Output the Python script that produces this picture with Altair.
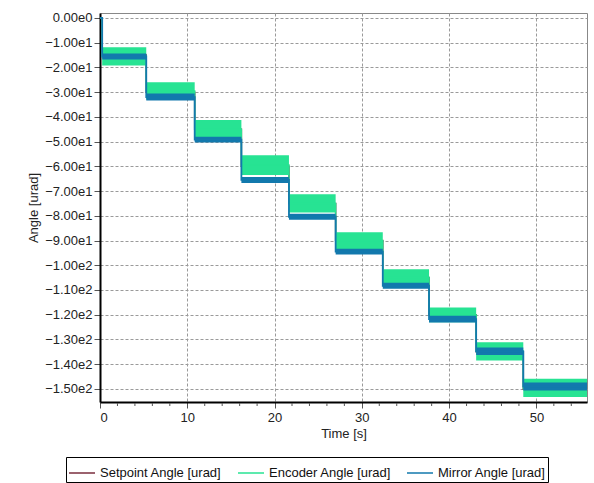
import altair as alt
import pandas as pd

# ---- data ----
series_names = ["Setpoint Angle [urad]", "Encoder Angle [urad]", "Mirror Angle [urad]"]
series_colors = ["#7a2e3e", "#27e393", "#1279ad"]

# start time of each level (s); the first entry is the initial value at t=0
step_times = [0.0, 0.25, 5.3, 10.85, 16.2, 21.65, 27.0, 32.4, 37.7, 43.1, 48.5]
end_time = 55.8
setpoint_levels = [0, -15, -30, -45, -60, -75, -90, -105, -120, -135, -150]
encoder_high = [0, -11.8, -26.0, -41.3, -55.5, -71.3, -86.7, -101.6, -117.1, -131.1, -145.9]
encoder_low = [0, -19.2, -33.0, -48.7, -63.5, -78.7, -93.4, -108.3, -123.1, -138.5, -153.3]
mirror_levels = [0, -15.6, -32.0, -49.2, -65.5, -80.4, -94.5, -108.3, -121.8, -134.8, -149.0]
mirror_spread = [0, 1.2, 1.4, 1.2, 1.2, 1.2, 1.2, 1.2, 1.4, 1.5, 1.6]

x_ticks = [0, 10, 20, 30, 40, 50]
x_minor = [2, 4, 6, 8, 12, 14, 16, 18, 22, 24, 26, 28, 32, 34, 36, 38, 42, 44, 46, 48, 52, 54]
y_ticks = [0, -10, -20, -30, -40, -50, -60, -70, -80, -90, -100, -110, -120, -130, -140, -150]
x_domain = [0, end_time]
y_domain = [-155.3, 2.0]

# ---- tables built from the arrays ----
times = step_times + [end_time]
def ext(a):
    return a + [a[-1]]

df = pd.DataFrame({
    "t": times,
    "setpoint": ext(setpoint_levels),
    "enc_hi": ext(encoder_high),
    "enc_lo": ext(encoder_low),
    "enc_mid": [(h + l) / 2 for h, l in zip(ext(encoder_high), ext(encoder_low))],
    "mirror": ext(mirror_levels),
    "mir_hi": [m + s for m, s in zip(ext(mirror_levels), ext(mirror_spread))],
    "mir_lo": [m - s for m, s in zip(ext(mirror_levels), ext(mirror_spread))],
})
df["s_set"] = series_names[0]
df["s_enc"] = series_names[1]
df["s_mir"] = series_names[2]

FONT = "Liberation Sans"
PLOT_H = 389

color_scale = alt.Scale(domain=series_names, range=series_colors)
legend = alt.Legend(
    title=None, orient="none", legendX=-34, legendY=444, direction="horizontal",
    columns=3, gridAlign="all", columnPadding=12,
    symbolType="stroke", symbolSize=676, symbolStrokeWidth=1.5, labelOffset=4,
    labelFont=FONT, labelFontSize=13, labelColor="#111",
    strokeColor="#000", fillColor="#fff", padding=2, cornerRadius=0,
)

x_axis = alt.Axis(values=x_ticks, title="Time [s]", format="d",
                  grid=True, gridDash=[3, 2], gridColor="#9a9a9a",
                  domainColor="#000", domainWidth=2, tickColor="#555",
                  tickSize=6, labelPadding=3, titlePadding=3,
                  labelFont=FONT, labelFontSize=13, labelColor="#222",
                  titleFont=FONT, titleFontSize=13, titleFontWeight="normal",
                  titleColor="#222", orient="bottom")
y_axis = alt.Axis(values=y_ticks, title="Angle [urad]",
                  labelExpr="replace(format(datum.value, '.2e'), 'e+', 'e')",
                  labelOverlap=False, labelFlush=False,
                  grid=True, gridDash=[3, 2], gridColor="#9a9a9a",
                  domainColor="#000", domainWidth=2, tickColor="#555",
                  tickSize=6, labelPadding=2, titlePadding=4,
                  labelFont=FONT, labelFontSize=13, labelColor="#222",
                  titleFont=FONT, titleFontSize=13, titleFontWeight="normal",
                  titleColor="#222")

ys = alt.Scale(domain=y_domain, nice=False, zero=False)
xs = alt.Scale(domain=x_domain, nice=False, zero=False)

def X(field):
    return alt.X(field, scale=xs, axis=x_axis, title="Time [s]")

def Y(field):
    return alt.Y(field, scale=ys, axis=y_axis, title="Angle [urad]")

base = alt.Chart(df)

setpoint = base.mark_line(interpolate="step-after", strokeWidth=1.5).encode(
    x=X("t:Q"), y=Y("setpoint:Q"),
    color=alt.Color("s_set:N", scale=color_scale, legend=legend),
)
enc_band = base.mark_area(interpolate="step-after", color=series_colors[1]).encode(
    x=X("t:Q"), y=Y("enc_hi:Q"), y2="enc_lo:Q",
)
enc_line = base.mark_line(interpolate="step-after", strokeWidth=1.5).encode(
    x=X("t:Q"), y=Y("enc_mid:Q"),
    color=alt.Color("s_enc:N", scale=color_scale, legend=legend),
)
mir_band = base.mark_area(interpolate="step-after", color=series_colors[2]).encode(
    x=X("t:Q"), y=Y("mir_hi:Q"), y2="mir_lo:Q",
)
mir_line = base.mark_line(interpolate="step-after", strokeWidth=1.8).encode(
    x=X("t:Q"), y=Y("mirror:Q"),
    color=alt.Color("s_mir:N", scale=color_scale, legend=legend),
)

# minor ticks on the time axis
minor_df = pd.DataFrame({"t": x_minor})
minor = alt.Chart(minor_df).mark_rule(color="#555", strokeWidth=1).encode(
    x=X("t:Q"),
    y=alt.value(PLOT_H + 1),
    y2=alt.value(PLOT_H + 4),
)

chart = alt.layer(setpoint, enc_band, enc_line, mir_band, mir_line, minor).properties(
    width=487, height=PLOT_H,
    autosize=alt.AutoSizeParams(type="none"),
    padding={"left": 100, "top": 13, "right": 7, "bottom": 81},
).configure_view(
    stroke="#888", strokeWidth=1,
)

chart.save("out.html", embed_options={"renderer": "svg", "actions": False})
